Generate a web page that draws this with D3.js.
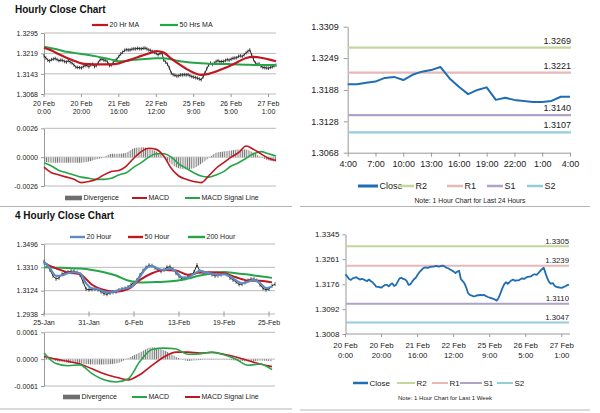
<!DOCTYPE html>
<html>
<head>
<meta charset="utf-8">
<script src="https://d3js.org/d3.v7.min.js"></script>
<style>
  body { margin: 0; background: #fff; }
</style>
</head>
<body>
<svg id="chart" width="600" height="413"></svg>
<script>
// ---------- data ----------
// hourly closes, last week (one value per hour)
const hourlyClose = [
  1.3210,1.3202,1.3194,1.3191,1.3196,1.3198,1.3200,1.3196,1.3192,1.3194,
  1.3193,1.3189,1.3187,1.3192,1.3187,1.3183,1.3176,1.3168,1.3167,1.3166,
  1.3165,1.3170,1.3174,1.3174,1.3169,1.3176,1.3179,1.3170,1.3174,1.3185,
  1.3196,1.3198,1.3194,1.3193,1.3187,1.3174,1.3176,1.3185,1.3193,1.3198,
  1.3208,1.3217,1.3223,1.3230,1.3233,1.3232,1.3232,1.3235,1.3236,1.3236,
  1.3238,1.3237,1.3236,1.3238,1.3239,1.3236,1.3232,1.3230,1.3226,1.3223,
  1.3219,1.3214,1.3219,1.3222,1.3194,1.3187,1.3179,1.3165,1.3146,1.3140,
  1.3138,1.3135,1.3136,1.3139,1.3139,1.3140,1.3139,1.3140,1.3136,1.3133,
  1.3131,1.3129,1.3127,1.3124,1.3121,1.3131,1.3146,1.3162,1.3176,1.3183,
  1.3178,1.3183,1.3189,1.3192,1.3188,1.3189,1.3189,1.3193,1.3196,1.3194,
  1.3198,1.3201,1.3202,1.3203,1.3208,1.3210,1.3208,1.3214,1.3221,1.3227,
  1.3232,1.3213,1.3196,1.3183,1.3178,1.3180,1.3171,1.3167,1.3166,1.3165,
  1.3164,1.3167,1.3169,1.3173,1.3175
];
const hourTickDates = ["20 Feb","20 Feb","21 Feb","22 Feb","25 Feb","26 Feb","27 Feb"];
const hourTickTimes = ["0:00","20:00","16:00","12:00","9:00","5:00","1:00"];
const hourTicks = [1.3068, 1.3143, 1.3219, 1.3295];

// hourly indicators, read every 4th hour
const hrMA20 = [1.3240,1.3230,1.3216,1.3203,1.3192,1.3182,1.3179,1.3178,1.3178,1.3178,1.3182,1.3191,1.3200,1.3210,1.3219,1.3228,
                1.3222,1.3200,1.3180,1.3162,1.3147,1.3139,1.3143,1.3152,1.3163,1.3175,1.3189,1.3202,1.3206,1.3203,1.3197,1.3190];
const hrMA50 = [1.3244,1.3238,1.3232,1.3225,1.3221,1.3217,1.3213,1.3208,1.3202,1.3196,1.3190,1.3191,1.3195,1.3197,1.3199,1.3201,
                1.3201,1.3197,1.3191,1.3187,1.3184,1.3182,1.3181,1.3180,1.3180,1.3179,1.3178,1.3177,1.3176,1.3176,1.3176,1.3176];
const hrMACD = [-0.0009,-0.0014,-0.0016,-0.0018,-0.0020,-0.0023,-0.0022,-0.0020,-0.0016,-0.0013,-0.0012,-0.0008,-0.0001,0.0005,0.0008,0.0007,
                0.0001,-0.0010,-0.0017,-0.0020,-0.0022,-0.0023,-0.0017,-0.0010,-0.0005,0.0000,0.0004,0.0010,0.0007,0.0003,-0.0001,-0.0003];
const hrSignal = [-0.0005,-0.0008,-0.0012,-0.0014,-0.0016,-0.0018,-0.0019,-0.0020,-0.0020,-0.0019,-0.0016,-0.0014,-0.0009,-0.0005,0.0000,0.0003,
                  0.0003,0.0000,-0.0006,-0.0010,-0.0014,-0.0017,-0.0018,-0.0016,-0.0013,-0.0008,-0.0005,-0.0001,0.0003,0.0005,0.0003,0.0001];
const hrDivergence = [-0.0004,-0.0005,-0.0005,-0.0005,-0.0005,-0.0005,-0.0004,-0.0002,0.0000,0.0003,0.0003,0.0004,0.0008,0.0009,0.0008,0.0005,
                      0.0000,-0.0006,-0.0010,-0.0011,-0.0010,-0.0006,-0.0001,0.0004,0.0005,0.0006,0.0007,0.0007,0.0004,0.0000,-0.0003,-0.0004];
const hrMacdTicks = [-0.0026, 0, 0.0026];

// 4 hourly closes
const fourClose = [
  1.3355,1.3328,1.3289,1.3242,1.3218,1.3226,1.3255,1.3268,1.3273,1.3279,
  1.3279,1.3268,1.3250,1.3197,1.3137,1.3132,1.3134,1.3137,1.3132,1.3116,
  1.3100,1.3095,1.3106,1.3111,1.3116,1.3129,1.3137,1.3142,1.3153,1.3171,
  1.3190,1.3210,1.3250,1.3284,1.3310,1.3326,1.3323,1.3305,1.3289,1.3279,
  1.3289,1.3310,1.3315,1.3294,1.3263,1.3237,1.3216,1.3221,1.3237,1.3247,
  1.3273,1.3328,1.3276,1.3268,1.3263,1.3263,1.3252,1.3242,1.3245,1.3252,
  1.3263,1.3252,1.3226,1.3210,1.3195,1.3174,1.3176,1.3190,1.3205,1.3216,
  1.3216,1.3205,1.3171,1.3142,1.3132,1.3137,1.3163,1.3176
];
const fourTickLabels = ["25-Jan","31-Jan","6-Feb","13-Feb","19-Feb","25-Feb"];
const fourTicks = [1.2938, 1.3124, 1.3310, 1.3496];
// every 2nd bar
const four20 = [1.3355,1.3302,1.3242,1.3247,1.3263,1.3271,1.3263,1.3184,1.3142,1.3137,1.3116,1.3111,1.3121,1.3137,1.3148,1.3171,
                1.3237,1.3302,1.3321,1.3300,1.3289,1.3300,1.3276,1.3231,1.3229,1.3258,1.3281,1.3268,1.3258,1.3250,1.3255,1.3237,
                1.3205,1.3182,1.3195,1.3210,1.3184,1.3145,1.3158];
// every 4th bar
const four50 = [1.3341,1.3302,1.3268,1.3255,1.3171,1.3129,1.3116,1.3137,1.3210,1.3263,1.3289,1.3284,1.3250,1.3268,1.3271,1.3263,1.3231,1.3205,1.3203,1.3190];
const four200 = [1.3310,1.3307,1.3305,1.3300,1.3289,1.3271,1.3245,1.3205,1.3190,1.3192,1.3195,1.3203,1.3221,1.3245,1.3263,1.3273,1.3263,1.3252,1.3239,1.3226];
const fourMACD = [0.0014,-0.0010,-0.0015,-0.0013,-0.0033,-0.0047,-0.0052,-0.0045,-0.0005,0.0022,0.0025,0.0023,0.0011,0.0012,0.0016,0.0010,0.0000,-0.0014,-0.0011,-0.0024];
const fourSignal = [0.0006,0.0000,-0.0005,-0.0011,-0.0022,-0.0033,-0.0041,-0.0047,-0.0035,-0.0014,0.0005,0.0016,0.0016,0.0014,0.0015,0.0011,0.0005,-0.0003,-0.0011,-0.0017];
const fourDivergence = [0.0005,-0.0004,-0.0008,-0.0010,-0.0012,-0.0012,-0.0010,0.0002,0.0015,0.0027,0.0020,0.0005,-0.0004,-0.0002,0.0001,-0.0001,-0.0003,-0.0005,-0.0003,-0.0005];
const fourMacdTicks = [-0.0061, 0, 0.0061];

// last 24 hours
const dayClose = [1.3199,1.3199,1.3202,1.3204,1.3211,1.3213,1.3207,1.3217,1.3223,1.3226,1.3232,1.3210,1.3194,
                  1.3180,1.3188,1.3193,1.3169,1.3173,1.3169,1.3167,1.3165,1.3165,1.3167,1.3175,1.3175];
const dayTickLabels = ["4:00","7:00","10:00","13:00","16:00","19:00","22:00","1:00","4:00"];
const dayTicks = [1.3068, 1.3128, 1.3188, 1.3249, 1.3309];
const weekTicks = [1.3008, 1.3092, 1.3176, 1.3261, 1.3345];

const levelNames = ["R2", "R1", "S1", "S2"];
const dayLevels = [1.3269, 1.3221, 1.3140, 1.3107];
const weekLevels = [1.3305, 1.3239, 1.3110, 1.3047];

// ---------- drawing ----------
const FONT = "'Liberation Sans', Arial, sans-serif";
const RED = "#c0161f", GREEN = "#25a548", BLUE4 = "#5d8cc4", BLUE = "#1f6db4";
const levelColors = ["#c3d69b", "#e6b9b8", "#b3a2c7", "#93cddd"];
const GRID = "#a8a8a8";

const svg = d3.select("#chart").attr("font-family", FONT);

const defs = svg.append("defs");
const pat = defs.append("pattern").attr("id", "hatch")
  .attr("patternUnits", "userSpaceOnUse").attr("width", 2.2).attr("height", 4);
pat.append("rect").attr("width", 2.2).attr("height", 4).attr("fill", "#dedede");
pat.append("rect").attr("width", 0.7).attr("height", 4).attr("fill", "#6a6a6a");

function pairs(arr, step) { return arr.map((v, k) => [k * step, v]); }

function drawLine(data, x, y, color, width, curve) {
  svg.append("path").datum(data)
    .attr("d", d3.line().x(d => x(d[0])).y(d => y(d[1])).curve(curve || d3.curveLinear))
    .attr("fill", "none").attr("stroke", color).attr("stroke-width", width)
    .attr("stroke-linejoin", "round");
}

function leftAxis(y, ticks, x, fs, tsize, pad) {
  const g = svg.append("g").attr("transform", `translate(${x},0)`)
    .call(d3.axisLeft(y).tickValues(ticks).tickSize(tsize).tickSizeOuter(0).tickPadding(pad)
      .tickFormat(d => d.toFixed(4)));
  g.attr("font-family", FONT).attr("font-size", fs);
  g.select(".domain").attr("stroke", "#999");
  g.selectAll(".tick line").attr("stroke", "#999");
  g.selectAll(".tick text").attr("fill", "#222");
}

function grid(y, ticks, x0, x1) {
  svg.append("g").selectAll("line").data(ticks).join("line")
    .attr("x1", x0).attr("x2", x1).attr("y1", d => y(d)).attr("y2", d => y(d))
    .attr("stroke", GRID).attr("stroke-width", 0.8);
}

function legendLine(x0, x1, y, color, w, label, fs) {
  svg.append("line").attr("x1", x0).attr("x2", x1).attr("y1", y).attr("y2", y)
    .attr("stroke", color).attr("stroke-width", w);
  svg.append("text").attr("x", x1 + 1.5).attr("y", y + fs * 0.35).attr("font-size", fs)
    .attr("fill", "#222").text(label);
}
function legendBox(x0, x1, y, label, fs) {
  svg.append("rect").attr("x", x0).attr("y", y - 2.3).attr("width", x1 - x0).attr("height", 4.6)
    .attr("fill", "#6e6e6e");
  svg.append("text").attr("x", x1 + 1.5).attr("y", y + fs * 0.35).attr("font-size", fs)
    .attr("fill", "#222").text(label);
}

function title(x, y, t) {
  svg.append("text").attr("x", x).attr("y", y).attr("font-size", 10).attr("font-weight", "bold")
    .attr("fill", "#111").text(t);
}

function closeBars(data, x, y, h) {
  drawLine(data.map((v, i) => [i, v]), x, y, "#111", 0.9);
  svg.append("g").selectAll("line").data(data).join("line")
    .attr("x1", (d, i) => x(i)).attr("x2", (d, i) => x(i))
    .attr("y1", d => y(d) - h).attr("y2", d => y(d) + h)
    .attr("stroke", "#111").attr("stroke-width", 0.7);
}

function histogram(data, step, x, y) {
  svg.append("path").datum(pairs(data, step))
    .attr("d", d3.area().x(d => x(d[0])).y0(y(0)).y1(d => y(d[1])).curve(d3.curveMonotoneX))
    .attr("fill", "url(#hatch)");
}

// ===== Hourly close chart (top left) =====
title(15, 12.5, "Hourly Close Chart");
const xH = d3.scaleLinear().domain([0, hourlyClose.length - 1]).range([44, 276]);
const yH = d3.scaleLinear().domain(d3.extent(hourTicks)).range([94, 33]);
grid(yH, hourTicks, 44, 276);
leftAxis(yH, hourTicks, 44, 7, 3, 3);
svg.append("g").selectAll("line").data(hourTickDates).join("line")
  .attr("x1", (d, k) => xH(k * 20)).attr("x2", (d, k) => xH(k * 20))
  .attr("y1", 94).attr("y2", 97).attr("stroke", "#999");
svg.append("g").selectAll("text").data(hourTickDates).join("text")
  .attr("x", (d, k) => xH(k * 20)).attr("y", 106).attr("text-anchor", "middle")
  .attr("font-size", 7).attr("fill", "#222").text(d => d);
svg.append("g").selectAll("text").data(hourTickTimes).join("text")
  .attr("x", (d, k) => xH(k * 20)).attr("y", 113.5).attr("text-anchor", "middle")
  .attr("font-size", 7).attr("fill", "#222").text(d => d);
closeBars(hourlyClose, xH, yH, 1.8);
drawLine(pairs(hrMA50, 4), xH, yH, GREEN, 2, d3.curveMonotoneX);
drawLine(pairs(hrMA20, 4), xH, yH, RED, 2.2, d3.curveMonotoneX);
legendLine(92, 108, 25, RED, 2.2, "20 Hr MA", 7);
legendLine(160, 178, 25, GREEN, 2.2, "50 Hrs MA", 7);

// hourly MACD
const yHM = d3.scaleLinear().domain(d3.extent(hrMacdTicks)).range([186, 128.3]);
grid(yHM, hrMacdTicks, 44, 276);
leftAxis(yHM, hrMacdTicks, 44, 7, 3, 3);
histogram(hrDivergence, 4, xH, yHM);
drawLine(pairs(hrSignal, 4), xH, yHM, GREEN, 1.6, d3.curveMonotoneX);
drawLine(pairs(hrMACD, 4), xH, yHM, RED, 1.6, d3.curveMonotoneX);
legendBox(65, 82, 198, "Divergence", 7);
legendLine(132, 147, 198, RED, 2, "MACD", 7);
legendLine(185, 200, 198, GREEN, 2, "MACD Signal Line", 7);

// ===== 4 Hourly close chart (bottom left) =====
title(15, 219, "4 Hourly Close Chart");
const xF = d3.scaleLinear().domain([0, fourClose.length - 1]).range([44, 275]);
const yF = d3.scaleLinear().domain(d3.extent(fourTicks)).range([314, 244]);
grid(yF, fourTicks, 44, 275);
leftAxis(yF, fourTicks, 44, 7, 3, 3);
svg.append("g").selectAll("line").data(fourTickLabels).join("line")
  .attr("x1", (d, k) => xF(k * 15)).attr("x2", (d, k) => xF(k * 15))
  .attr("y1", 311.5).attr("y2", 316.5).attr("stroke", "#999");
svg.append("g").selectAll("text").data(fourTickLabels).join("text")
  .attr("x", (d, k) => xF(k * 15)).attr("y", 324.5).attr("text-anchor", "middle")
  .attr("font-size", 7).attr("fill", "#222").text(d => d);
closeBars(fourClose, xF, yF, 2);
drawLine(pairs(four200, 4), xF, yF, GREEN, 2, d3.curveMonotoneX);
drawLine(pairs(four50, 4), xF, yF, RED, 2, d3.curveMonotoneX);
drawLine(pairs(four20, 2), xF, yF, BLUE4, 2.2, d3.curveMonotoneX);
legendLine(70, 85, 237, BLUE4, 2.4, "20 Hour", 7);
legendLine(128, 143, 237, RED, 2.4, "50 Hour", 7);
legendLine(188, 205, 237, GREEN, 2.4, "200 Hour", 7);

// 4 hourly MACD
const yFM = d3.scaleLinear().domain(d3.extent(fourMacdTicks)).range([386, 332.3]);
grid(yFM, fourMacdTicks, 44, 275);
leftAxis(yFM, fourMacdTicks, 44, 7, 3, 3);
histogram(fourDivergence, 4, xF, yFM);
drawLine(pairs(fourSignal, 4), xF, yFM, RED, 1.6, d3.curveMonotoneX);
drawLine(pairs(fourMACD, 4), xF, yFM, GREEN, 1.6, d3.curveMonotoneX);
legendBox(63, 80, 397, "Divergence", 7);
legendLine(132, 147, 397, GREEN, 2, "MACD", 7);
legendLine(185, 200, 397, RED, 2, "MACD Signal Line", 7);

// ===== Last 24 hours (top right) =====
const xD = d3.scaleLinear().domain([0, dayClose.length - 1]).range([347.7, 570]);
const yD = d3.scaleLinear().domain(d3.extent(dayTicks)).range([152.7, 26.7]);
leftAxis(yD, dayTicks, 347.7, 9, 4, 5);
const gxD = svg.append("g").attr("transform", "translate(0,152.7)")
  .call(d3.axisBottom(xD).tickValues(d3.range(0, 25, 3)).tickSize(4).tickSizeOuter(0).tickPadding(4)
    .tickFormat((d, k) => dayTickLabels[k]));
gxD.attr("font-family", FONT).attr("font-size", 9);
gxD.select(".domain").attr("stroke", "#999");
gxD.selectAll(".tick line").attr("stroke", "#999");
gxD.selectAll(".tick text").attr("fill", "#222");
levelNames.forEach((n, k) => {
  const yy = yD(dayLevels[k]);
  svg.append("line").attr("x1", 348).attr("x2", 571).attr("y1", yy).attr("y2", yy)
    .attr("stroke", levelColors[k]).attr("stroke-width", 2.2);
  svg.append("text").attr("x", 571).attr("y", yy - 4).attr("text-anchor", "end")
    .attr("font-size", 9).attr("fill", "#222").text(dayLevels[k].toFixed(4));
});
drawLine(dayClose.map((v, i) => [i, v]), xD, yD, BLUE, 2);
legendLine(358, 378, 186, BLUE, 3, "Close", 9);
levelNames.forEach((n, k) => {
  const x0 = [398, 447, 487, 527][k];
  legendLine(x0, x0 + 16, 186, levelColors[k], 2.5, n, 9);
});
svg.append("text").attr("x", 470).attr("y", 203).attr("text-anchor", "middle")
  .attr("font-size", 6.8).attr("fill", "#222").text("Note: 1 Hour Chart for Last 24 Hours");

// ===== Last week, hourly (bottom right) =====
const xW = d3.scaleLinear().domain([0, hourlyClose.length - 1]).range([345.5, 569]);
const yW = d3.scaleLinear().domain(d3.extent(weekTicks)).range([334, 234.3]);
leftAxis(yW, weekTicks, 345.5, 8, 3, 3);
svg.append("line").attr("x1", 345.5).attr("x2", 570).attr("y1", 334).attr("y2", 334).attr("stroke", "#999");
svg.append("g").selectAll("line").data(hourTickDates).join("line")
  .attr("x1", (d, k) => xW(k * 20)).attr("x2", (d, k) => xW(k * 20))
  .attr("y1", 334).attr("y2", 337).attr("stroke", "#999");
svg.append("g").selectAll("text").data(hourTickDates).join("text")
  .attr("x", (d, k) => xW(k * 20)).attr("y", 348).attr("text-anchor", "middle")
  .attr("font-size", 7.8).attr("fill", "#222").text(d => d);
svg.append("g").selectAll("text").data(hourTickTimes).join("text")
  .attr("x", (d, k) => xW(k * 20)).attr("y", 358).attr("text-anchor", "middle")
  .attr("font-size", 7.8).attr("fill", "#222").text(d => d);
levelNames.forEach((n, k) => {
  const yy = yW(weekLevels[k]);
  svg.append("line").attr("x1", 346).attr("x2", 569).attr("y1", yy).attr("y2", yy)
    .attr("stroke", levelColors[k]).attr("stroke-width", 2);
  svg.append("text").attr("x", 569).attr("y", yy - 2.5).attr("text-anchor", "end")
    .attr("font-size", 7.8).attr("fill", "#222").text(weekLevels[k].toFixed(4));
});
drawLine(hourlyClose.map((v, i) => [i, v]), xW, yW, BLUE, 1.8);
legendLine(353, 368, 383, BLUE, 2.5, "Close", 8);
levelNames.forEach((n, k) => {
  const x0 = [397, 432, 460, 497][k];
  const x1 = [415, 448, 482, 513][k];
  legendLine(x0, x1, 383, levelColors[k], 2, n, 8);
});
svg.append("text").attr("x", 445).attr("y", 400).attr("text-anchor", "middle")
  .attr("font-size", 6).attr("fill", "#222").text("Note: 1 Hour Chart for  Last 1 Week");

// separators
[[0, 292, 206.5], [300, 590, 206.5], [0, 292, 409], [300, 590, 410]].forEach(s => {
  svg.append("line").attr("x1", s[0]).attr("x2", s[1]).attr("y1", s[2]).attr("y2", s[2])
    .attr("stroke", "#b5b5b5").attr("stroke-width", 1);
});
</script>
</body>
</html>
